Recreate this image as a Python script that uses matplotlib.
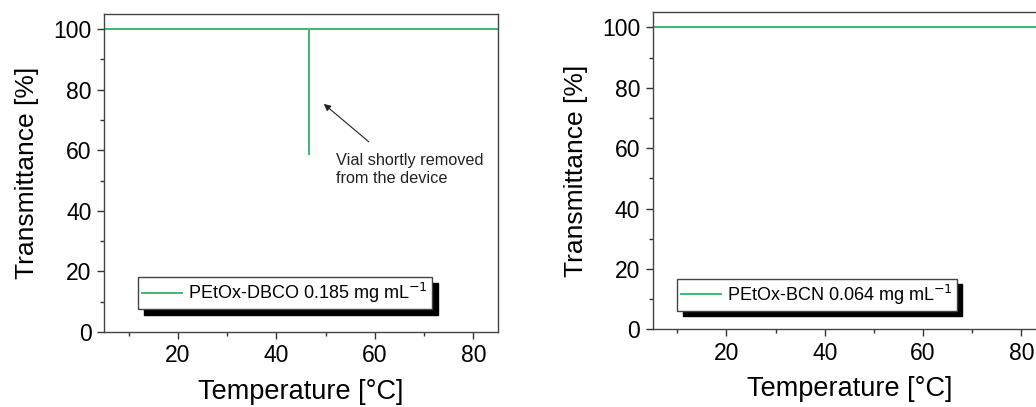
import matplotlib
matplotlib.use('Agg')
from matplotlib import pyplot as plt
from matplotlib.ticker import MultipleLocator

plt.rcParams['font.family'] = ['Liberation Sans', 'DejaVu Sans']

# Data
dbcoTemp = [5, 46.7, 46.7, 46.7, 85]
dbcoTrans = [100, 100, 58.9, 100, 100]
bcnTemp = [5, 85]
bcnTrans = [100, 100]

labels = ['PEtOx-DBCO 0.185 mg mL$^{-1}$', 'PEtOx-BCN 0.064 mg mL$^{-1}$']
lineColor = '#3dba72'

fig = plt.figure(figsize=(10.36, 4.07), dpi=100)
axLeft = fig.add_axes([0.1004, 0.1843, 0.3803, 0.7813])
axRight = fig.add_axes([0.630, 0.1909, 0.3796, 0.7789])

# legend anchor (x centre, bottom) in axes fraction
legAnchor = {axLeft: (0.46, 0.072), axRight: (0.418, 0.059)}

for ax, x, y, label in ((axLeft, dbcoTemp, dbcoTrans, labels[0]),
                        (axRight, bcnTemp, bcnTrans, labels[1])):
    ax.plot(x, y, color=lineColor, lw=1.4, label=label)
    ax.set_xlim(5, 85)
    ax.set_ylim(0, 105)
    ax.xaxis.set_major_locator(MultipleLocator(20))
    ax.xaxis.set_minor_locator(MultipleLocator(10))
    ax.yaxis.set_major_locator(MultipleLocator(20))
    ax.yaxis.set_minor_locator(MultipleLocator(10))
    ax.tick_params(which='major', direction='out', length=5, width=1, labelsize=16.5,
                   color='#333333', pad=4)
    ax.tick_params(which='minor', direction='out', length=3, width=1, color='#333333')
    for s in ax.spines.values():
        s.set_color('#444444')
        s.set_linewidth(1)
    ax.set_xlabel('Temperature [°C]', fontsize=19.5, labelpad=8)
    ax.set_ylabel('Transmittance [%]', fontsize=19, labelpad=10)
    leg = ax.legend(loc='lower center', bbox_to_anchor=legAnchor[ax], fontsize=13,
                    fancybox=False, shadow={'color': 'black', 'alpha': 1, 'ox': 4, 'oy': -4},
                    edgecolor='#444444', framealpha=1, handlelength=2.2,
                    borderpad=0.22, handletextpad=0.35, borderaxespad=0)
    leg.get_frame().set_linewidth(1)

axLeft.annotate('', xy=(49.2, 75.9), xytext=(59.2, 62.2),
                arrowprops=dict(arrowstyle='-|>', color='#222222', lw=0.8,
                                mutation_scale=10))
axLeft.text(52.2, 59.0, 'Vial shortly removed\nfrom the device', fontsize=11.7,
            va='top', ha='left', color='#222222', linespacing=1.2)

fig.savefig('out.png', dpi=100)
